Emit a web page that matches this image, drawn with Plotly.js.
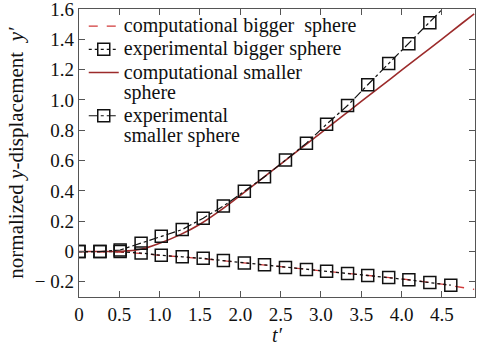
<!DOCTYPE html>
<html>
<head>
<meta charset="utf-8">
<script src="https://cdn.plot.ly/plotly-3.0.1.min.js"></script>
<style>html,body{margin:0;padding:0;background:#fff;}#chart{width:484px;height:346px;}</style>
</head>
<body>
<div id="chart"></div>
<script>
// Computational, bigger sphere (red dashed)
const compBigX = [0, 0.5, 0.75, 1.0, 1.5, 2.0, 2.5, 3.0, 3.5, 4.0, 4.5, 4.9];
const compBigY = [0, -0.003, -0.012, -0.025, -0.045, -0.07, -0.1, -0.127, -0.152, -0.18, -0.215, -0.25];

// Experimental, bigger sphere (dotted + squares)
const expBigX = [0, 0.26, 0.51, 0.77, 1.02, 1.28, 1.54, 1.79, 2.05, 2.30, 2.56, 2.82, 3.07, 3.33, 3.58, 3.84, 4.09, 4.35, 4.61];
const expBigY = [0, 0, 0, -0.01, -0.025, -0.035, -0.045, -0.06, -0.075, -0.088, -0.105, -0.118, -0.13, -0.145, -0.158, -0.172, -0.187, -0.205, -0.222];

// Computational, smaller sphere (solid dark red)
const compSmallX = [0, 0.25, 0.5, 0.75, 1.0, 1.25, 1.5, 1.75, 2.0, 2.25, 2.5, 2.75, 3.0, 3.25, 3.5, 3.75, 4.0, 4.25, 4.5, 4.75, 4.9];
const compSmallY = [0, 0, 0.001, 0.013, 0.055, 0.11, 0.18, 0.27, 0.37, 0.473, 0.577, 0.68, 0.783, 0.886, 0.99, 1.093, 1.196, 1.299, 1.402, 1.506, 1.568];

// Experimental, smaller sphere (dash-dot + squares)
const expSmallX = [0, 0.26, 0.51, 0.77, 1.02, 1.28, 1.54, 1.79, 2.05, 2.30, 2.56, 2.82, 3.07, 3.33, 3.58, 3.84, 4.09, 4.35, 4.61];
const expSmallY = [0, 0, 0.01, 0.055, 0.10, 0.145, 0.22, 0.30, 0.397, 0.493, 0.603, 0.715, 0.84, 0.963, 1.10, 1.24, 1.37, 1.51, 1.655];

const seriesNames = ['computational bigger\u00a0 sphere', 'experimental bigger sphere',
                     'computational smaller<br>sphere', 'experimental<br>smaller sphere'];

const xTickVals = [0, 0.5, 1.0, 1.5, 2.0, 2.5, 3.0, 3.5, 4.0, 4.5];
const xTickText = ['0', '0.5', '1.0', '1.5', '2.0', '2.5', '3.0', '3.5', '4.0', '4.5'];
const yTickVals = [-0.2, 0, 0.2, 0.4, 0.6, 0.8, 1.0, 1.2, 1.4, 1.6];
const yTickText = ['\u2212 0.2', '0', '0.2', '0.4', '0.6', '0.8', '1.0', '1.2', '1.4', '1.6'];

const serif = 'Liberation Serif';
function big(s) {
  return s.split('<br>').map(p => '<span style="font-size:20px">' + p + '</span>').join('<br>');
}

const traces = [
  {x: compBigX, y: compBigY, mode: 'lines', name: big(seriesNames[0]),
   line: {color: '#d13a3a', width: 1.3, dash: 'dash'}},
  {x: expBigX, y: expBigY, mode: 'lines+markers', name: big(seriesNames[1]),
   line: {color: '#111', width: 1.3, dash: 'dot'},
   marker: {symbol: 'square-open', size: 12, color: '#111', line: {width: 1.5, color: '#111'}}},
  {x: compSmallX, y: compSmallY, mode: 'lines', name: big(seriesNames[2]),
   line: {color: '#9c2b2b', width: 1.6, shape: 'spline'}},
  {x: expSmallX, y: expSmallY, mode: 'lines+markers', name: big(seriesNames[3]),
   line: {color: '#111', width: 1.2, dash: 'dashdot'},
   marker: {symbol: 'square-open', size: 12, color: '#111', line: {width: 1.5, color: '#111'}}}
];

const layout = {
  width: 484, height: 346,
  margin: {l: 79, r: 9, t: 9, b: 49},
  paper_bgcolor: '#fff', plot_bgcolor: '#fff',
  font: {family: serif, size: 18, color: '#111'},
  showlegend: true,
  legend: {x: 0.012, y: 0.998, xanchor: 'left', yanchor: 'top', bgcolor: 'rgba(0,0,0,0)',
           font: {family: serif, size: 15.5, color: '#111'}, valign: 'top', tracegroupgap: 0},
  xaxis: {
    range: [0, 4.91], tickmode: 'array', tickvals: xTickVals, ticktext: xTickText,
    ticks: 'inside', ticklen: 6, tickcolor: '#555', showline: true, linecolor: '#555', linewidth: 1.2,
    mirror: 'ticks', showgrid: false, zeroline: false,
    tickfont: {family: serif, size: 19, color: '#111'},
    title: {text: '<i>t\u2032</i>', font: {family: serif, size: 20, color: '#111'}, standoff: 0}
  },
  yaxis: {
    range: [-0.3, 1.6], tickmode: 'array', tickvals: yTickVals, ticktext: yTickText,
    ticks: 'inside', ticklen: 6, tickcolor: '#555', showline: true, linecolor: '#555', linewidth: 1.2,
    mirror: 'ticks', showgrid: false, zeroline: false, ticklabeloverflow: 'allow',
    tickfont: {family: serif, size: 19, color: '#111'},
    title: {text: 'normalized <i>y</i>-displacement\u00a0 <i>y\u2032</i>', font: {family: serif, size: 21, color: '#111'}, standoff: 5}
  }
};

Plotly.newPlot('chart', traces, layout, {displayModeBar: false, staticPlot: true});
</script>
</body>
</html>
